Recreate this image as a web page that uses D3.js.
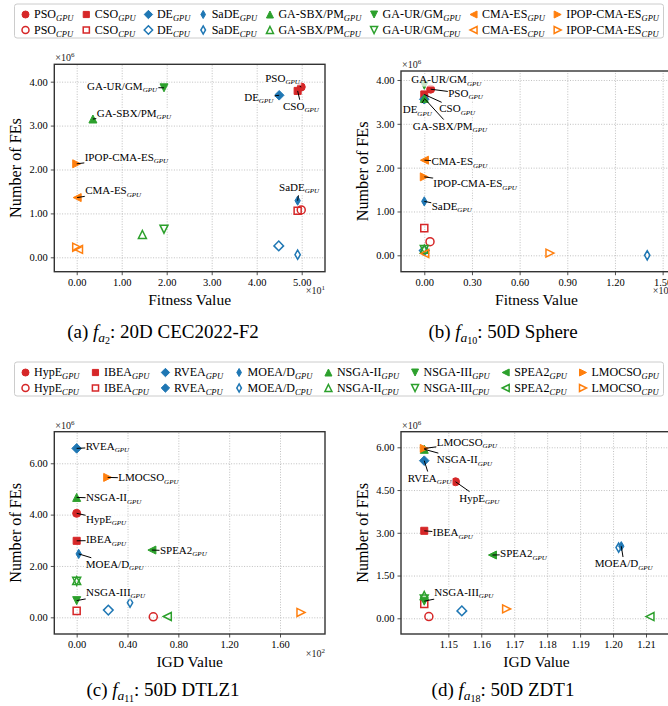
<!DOCTYPE html>
<html>
<head>
<meta charset="utf-8">
<script src="https://cdn.jsdelivr.net/npm/d3@7"></script>
<style>
  body { margin: 0; background: #fff; }
  svg { display: block; font-family: "Liberation Serif", "Times New Roman", serif; }
</style>
</head>
<body>
<svg id="fig" width="668" height="706"></svg>
<script>
// ---------------- data ----------------
const singleAlgos = ["PSO", "CSO", "DE", "SaDE", "GA-SBX/PM", "GA-UR/GM", "CMA-ES", "IPOP-CMA-ES"];
const multiAlgos  = ["HypE", "IBEA", "RVEA", "MOEA/D", "NSGA-II", "NSGA-III", "SPEA2", "LMOCSO"];

// f_a2: 20D CEC2022-F2 (fitness value, number of FEs)
const a2GpuFitness = [49.9, 49.1, 45.0, 49.1, 3.6, 19.4, 0.1, 0.0];
const a2GpuFEs     = [3.88e6, 3.79e6, 3.69e6, 1.29e6, 3.15e6, 3.86e6, 1.36e6, 2.13e6];
const a2CpuFitness = [49.9, 49.1, 44.9, 49.1, 14.6, 19.4, 0.4, 0.0];
const a2CpuFEs     = [1.08e6, 1.06e6, 0.26e6, 0.06e6, 0.52e6, 0.64e6, 0.18e6, 0.23e6];

// f_a10: 50D Sphere
const a10GpuFitness = [4.0, 0.0, 0.0, 0.0, 0.0, 0.0, 0.1, 0.0];
const a10GpuFEs     = [3.79e6, 3.67e6, 3.56e6, 1.23e6, 3.58e6, 3.88e6, 2.17e6, 1.79e6];
const a10CpuFitness = [3.6, 0.0, 0.0, 140.3, 0.0, 0.0, 0.3, 79.1];
const a10CpuFEs     = [0.31e6, 0.62e6, 0.11e6, 0.00e6, 0.14e6, 0.13e6, 0.04e6, 0.05e6];

// f_a11: 50D DTLZ1 (IGD value, number of FEs)
const a11GpuIGD = [0.0, 0.0, 0.0, 1.6, 0.0, 0.0, 59.2, 24.4];
const a11GpuFEs = [4.05e6, 2.98e6, 6.58e6, 2.47e6, 4.67e6, 0.65e6, 2.62e6, 5.45e6];
const a11CpuIGD = [60.3, 0.0, 24.9, 42.0, 0.0, 0.0, 71.3, 176.5];
const a11CpuFEs = [0.02e6, 0.25e6, 0.28e6, 0.57e6, 1.43e6, 1.40e6, 0.03e6, 0.19e6];

// f_a18: 50D ZDT1
const a18GpuIGD = [1.1522, 1.1427, 1.1427, 1.2025, 1.1427, 1.1427, 1.1634, 1.1427];
const a18GpuFEs = [4.79e6, 3.07e6, 5.53e6, 2.53e6, 5.93e6, 0.60e6, 2.22e6, 5.96e6];
const a18CpuIGD = [1.1441, 1.1427, 1.1541, 1.2017, 1.1427, 1.1427, 1.2112, 1.1677];
const a18CpuFEs = [0.06e6, 0.50e6, 0.26e6, 2.48e6, 0.80e6, 0.68e6, 0.06e6, 0.33e6];

// tick values
const a2XTicks  = [0, 10, 20, 30, 40, 50];
const a10XTicks = [0, 30, 60, 90, 120, 150];
const a11XTicks = [0, 40, 80, 120, 160];
const a18XTicks = [1.15, 1.16, 1.17, 1.18, 1.19, 1.20, 1.21];
const fesTicks4 = [0, 1e6, 2e6, 3e6, 4e6];
const fesTicksC = [0, 2e6, 4e6, 6e6];
const fesTicksD = [0, 1.5e6, 3e6, 4.5e6, 6e6];

// ---------------- styles ----------------
const RED = "#d62728", BLUE = "#1f77b4", GREEN = "#2ca02c", ORANGE = "#ff7f0e";
const singleStyle = [
  { shape: "circle", color: RED }, { shape: "square", color: RED },
  { shape: "diamond", color: BLUE }, { shape: "thin", color: BLUE },
  { shape: "up", color: GREEN }, { shape: "down", color: GREEN },
  { shape: "left", color: ORANGE }, { shape: "right", color: ORANGE }
];
const multiStyle = [
  { shape: "circle", color: RED }, { shape: "square", color: RED },
  { shape: "diamond", color: BLUE }, { shape: "thin", color: BLUE },
  { shape: "up", color: GREEN }, { shape: "down", color: GREEN },
  { shape: "left", color: GREEN }, { shape: "right", color: ORANGE }
];

function markerPath(shape, s) {
  const r = s / 2;
  switch (shape) {
    case "circle": return `M${r},0A${r},${r} 0 1,1 ${-r},0A${r},${r} 0 1,1 ${r},0Z`;
    case "square": { const h = r * 0.88; return `M${-h},${-h}H${h}V${h}H${-h}Z`; }
    case "diamond": { const d = r * 1.2; return `M0,${-d}L${d},0L0,${d}L${-d},0Z`; }
    case "thin": { const d = r * 1.15, w = d * 0.58; return `M0,${-d}L${w},0L0,${d}L${-w},0Z`; }
    case "up": return `M0,${-r}L${r},${r}L${-r},${r}Z`;
    case "down": return `M0,${r}L${r},${-r}L${-r},${-r}Z`;
    case "left": return `M${-r},0L${r},${-r}L${r},${r}Z`;
    case "right": return `M${r},0L${-r},${-r}L${-r},${r}Z`;
  }
}

function drawMarker(g, cx, cy, style, filled, size) {
  g.append("path")
    .attr("d", markerPath(style.shape, size))
    .attr("transform", `translate(${cx},${cy})`)
    .attr("fill", filled ? style.color : "none")
    .attr("stroke", style.color)
    .attr("stroke-width", filled ? 1 : 1.5)
    .attr("stroke-linejoin", "miter");
}

const svg = d3.select("#fig");
svg.append("rect").attr("width", 668).attr("height", 706).attr("fill", "#fff");

function subLabel(textSel, main, sub, subSize, subDy) {
  textSel.append("tspan").text(main);
  textSel.append("tspan").attr("font-size", subSize).attr("font-style", "italic")
    .attr("dy", subDy).text(sub);
}

// ---------------- legends ----------------
function drawLegend(names, styles, top, cpuFilledIdx) {
  const g = svg.append("g");
  g.append("rect").attr("x", 14.5).attr("y", top).attr("width", 649).attr("height", 34)
    .attr("rx", 2.5).attr("fill", "#fff").attr("stroke", "#cccccc").attr("stroke-width", 1);
  const rows = [top + 10, top + 25.5];
  const handle = 8.5, startX = 25.5, endX = 659;
  const entries = names.map((n, i) => {
    const t1 = g.append("text").attr("font-size", 12).attr("y", rows[0]).attr("dy", "0.35em");
    subLabel(t1, n, "GPU", 8.5, 3);
    const t2 = g.append("text").attr("font-size", 12).attr("y", rows[1]).attr("dy", "0.35em");
    subLabel(t2, n, "CPU", 8.5, 3);
    const w = Math.max(t1.node().getComputedTextLength(), t2.node().getComputedTextLength());
    return { t1, t2, w, i };
  });
  const gap = (endX - startX - d3.sum(entries, e => e.w + handle)) / (names.length - 1);
  let x = startX;
  entries.forEach(e => {
    drawMarker(g, x, rows[0] + 0.5, styles[e.i], true, 7);
    drawMarker(g, x, rows[1] + 0.5, styles[e.i], e.i === cpuFilledIdx, 7);
    e.t1.attr("x", x + handle);
    e.t2.attr("x", x + handle);
    x += handle + e.w + gap;
  });
}

// ---------------- panels ----------------
function drawPanel(p) {
  const [x0, y0, x1, y1] = p.box;
  const x = d3.scaleLinear().domain(p.xDomain).range([x0, x1]);
  const y = d3.scaleLinear().domain(p.yDomain).range([y1, y0]);
  const g = svg.append("g");

  // dotted grid
  const gx = g.append("g").attr("transform", `translate(0,${y1})`)
    .call(d3.axisBottom(x).tickValues(p.xTicks).tickSize(-(y1 - y0)).tickFormat(""));
  const gy = g.append("g").attr("transform", `translate(${x0},0)`)
    .call(d3.axisLeft(y).tickValues(p.yTicks).tickSize(-(x1 - x0)).tickFormat(""));
  [gx, gy].forEach(s => {
    s.select(".domain").remove();
    s.selectAll("line").attr("stroke", "#b0b0b0").attr("stroke-width", 0.8)
      .attr("stroke-dasharray", "1,1.6");
  });

  // axes with tick labels
  const ax = g.append("g").attr("transform", `translate(0,${y1})`)
    .call(d3.axisBottom(x).tickValues(p.xTicks).tickSize(3.5).tickPadding(3)
      .tickFormat(d => (d / p.xMult).toFixed(2)));
  const ay = g.append("g").attr("transform", `translate(${x0},0)`)
    .call(d3.axisLeft(y).tickValues(p.yTicks).tickSize(3.5).tickPadding(3)
      .tickFormat(d => (d / 1e6).toFixed(2)));
  [ax, ay].forEach(s => {
    s.select(".domain").remove();
    s.selectAll("line").attr("stroke", "#222").attr("stroke-width", 0.8);
    s.selectAll("text").attr("font-size", 10.5).attr("font-family", "Liberation Serif, serif").attr("fill", "#000");
  });

  // markers
  const mk = g.append("g");
  p.algos.forEach((a, i) => {
    drawMarker(mk, x(p.cpuX[i]), y(p.cpuY[i]), p.styles[i], false, 8);
  });
  p.algos.forEach((a, i) => {
    drawMarker(mk, x(p.gpuX[i]), y(p.gpuY[i]), p.styles[i], true, 8);
  });

  // annotations for GPU points
  const an = g.append("g");
  p.algos.forEach((a, i) => {
    const px = x(p.gpuX[i]), py = y(p.gpuY[i]);
    const [dx, dy] = p.labelOffsets[i];
    const t = an.append("text").attr("x", px + dx).attr("y", py + dy).attr("dy", "0.35em")
      .attr("font-size", 11);
    subLabel(t, a, "GPU", 7, 2.5);
    const bb = t.node().getBBox();
    const cx = bb.x + bb.width / 2, cy = bb.y + bb.height / 2;
    const vx = px - cx, vy = py - cy;
    const sx = vx !== 0 ? (bb.width / 2) / Math.abs(vx) : Infinity;
    const sy = vy !== 0 ? (bb.height / 2) / Math.abs(vy) : Infinity;
    const s = Math.min(sx, sy);
    if (s < 1) {
      an.insert("line", "text")
        .attr("x1", cx + vx * s).attr("y1", cy + vy * s)
        .attr("x2", px).attr("y2", py)
        .attr("stroke", "#000").attr("stroke-width", 1);
    }
    an.insert("rect", "text").attr("x", bb.x - 0.5).attr("y", bb.y + 1).attr("width", bb.width + 1)
      .attr("height", bb.height - 2).attr("fill", "#fff").attr("fill-opacity", 0.75);
  });

  // spines
  g.append("rect").attr("x", x0).attr("y", y0).attr("width", x1 - x0).attr("height", y1 - y0)
    .attr("fill", "none").attr("stroke", "#333").attr("stroke-width", 1.4);

  // offset texts
  const oy = g.append("text").attr("x", x0 + 1).attr("y", y0 - 3).attr("font-size", 10).attr("fill", "#222");
  oy.append("tspan").text("×10");
  oy.append("tspan").attr("font-size", 7).attr("dy", -4).text("6");
  if (p.xExp) {
    const ox = g.append("text").attr("x", x1).attr("y", p.xOffsetY).attr("font-size", 10)
      .attr("text-anchor", "end").attr("fill", "#222");
    ox.append("tspan").text("×10");
    ox.append("tspan").attr("font-size", 7).attr("dy", -4).text(p.xExp);
  }

  // axis titles
  g.append("text").attr("x", (x0 + x1) / 2).attr("y", p.xLabelY).attr("text-anchor", "middle")
    .attr("font-size", 15.5).text(p.xLabel);
  g.append("text").attr("transform", `translate(${p.yLabelX},${(y0 + y1) / 2}) rotate(-90)`)
    .attr("text-anchor", "middle").attr("dy", "0.35em").attr("font-size", 16.2).text("Number of FEs");

  // caption
  const c = g.append("text").attr("x", p.capX).attr("y", p.capY).attr("text-anchor", "middle")
    .attr("font-size", 19);
  c.append("tspan").text(`(${p.id}) `);
  c.append("tspan").attr("font-style", "italic").text("f");
  c.append("tspan").attr("font-style", "italic").attr("font-size", 13.5).attr("dy", 4).text("a");
  c.append("tspan").attr("font-size", 10).attr("dy", 2.2).text(p.fnIndex);
  c.append("tspan").attr("dy", -6.2).text(": " + p.caption);
}

drawLegend(singleAlgos, singleStyle, 4, -1);
drawLegend(multiAlgos, multiStyle, 362, 2);

drawPanel({
  id: "a", fnIndex: "2", caption: "20D CEC2022-F2", capX: 163, capY: 338,
  box: [54.3, 64.3, 325, 271.7], xDomain: [-4.98, 55.18], yDomain: [-0.328e6, 4.396e6],
  xTicks: a2XTicks, yTicks: fesTicks4, xMult: 10, xExp: "1", xOffsetY: 294,
  xLabel: "Fitness Value", xLabelY: 305, yLabelX: 15,
  algos: singleAlgos, styles: singleStyle,
  gpuX: a2GpuFitness, gpuY: a2GpuFEs, cpuX: a2CpuFitness, cpuY: a2CpuFEs,
  labelOffsets: [[-36, -9], [-14.6, 15], [-35, 1.4], [-18.6, -13.7], [3.8, -6], [-77, -2], [8, -7], [8, -7]]
});

drawPanel({
  id: "b", fnIndex: "10", caption: "50D Sphere", capX: 503, capY: 338,
  box: [401, 71, 672, 271.7], xDomain: [-14.66, 155.9], yDomain: [-0.374e6, 4.205e6],
  xTicks: a10XTicks, yTicks: fesTicks4, xMult: 100, xExp: "2", xOffsetY: 294,
  xLabel: "Fitness Value", xLabelY: 305, yLabelX: 362,
  algos: singleAlgos, styles: singleStyle,
  gpuX: a10GpuFitness, gpuY: a10GpuFEs, cpuX: a10CpuFitness, cpuY: a10CpuFEs,
  labelOffsets: [[17.6, 3.5], [15, 14], [-21.6, 10], [7.4, 4.3], [-11.6, 27.3], [-13, -6], [7, 1], [9, 6.4]]
});

drawPanel({
  id: "c", fnIndex: "11", caption: "50D DTLZ1", capX: 163, capY: 696,
  box: [54.3, 431.7, 325, 634], xDomain: [-17.6, 195.4], yDomain: [-0.65e6, 7.23e6],
  xTicks: a11XTicks, yTicks: fesTicksC, xMult: 100, xExp: "2", xOffsetY: 657,
  xLabel: "IGD Value", xLabelY: 667, yLabelX: 15,
  algos: multiAlgos, styles: multiStyle,
  gpuX: a11GpuIGD, gpuY: a11GpuFEs, cpuX: a11CpuIGD, cpuY: a11CpuFEs,
  labelOffsets: [[9.3, 5.4], [9.3, -1.5], [9, -2.7], [7, 10], [9.3, 0], [9.3, -8.6], [8, 0], [10.6, 0]]
});

drawPanel({
  id: "d", fnIndex: "18", caption: "50D ZDT1", capX: 503, capY: 696,
  box: [401, 431.7, 672, 634], xDomain: [1.13564, 1.21789], yDomain: [-0.551e6, 6.547e6],
  xTicks: a18XTicks, yTicks: fesTicksD, xMult: 1, xExp: null,
  xLabel: "IGD Value", xLabelY: 667, yLabelX: 362,
  algos: multiAlgos, styles: multiStyle,
  gpuX: a18GpuIGD, gpuY: a18GpuFEs, cpuX: a18CpuIGD, cpuY: a18CpuFEs,
  labelOffsets: [[3.8, 16], [8.5, 1.5], [-16.5, 17], [-26.5, 17], [12.5, 10], [10, -9.5], [7.6, -1.7], [12.5, -6.7]]
});
</script>
</body>
</html>
